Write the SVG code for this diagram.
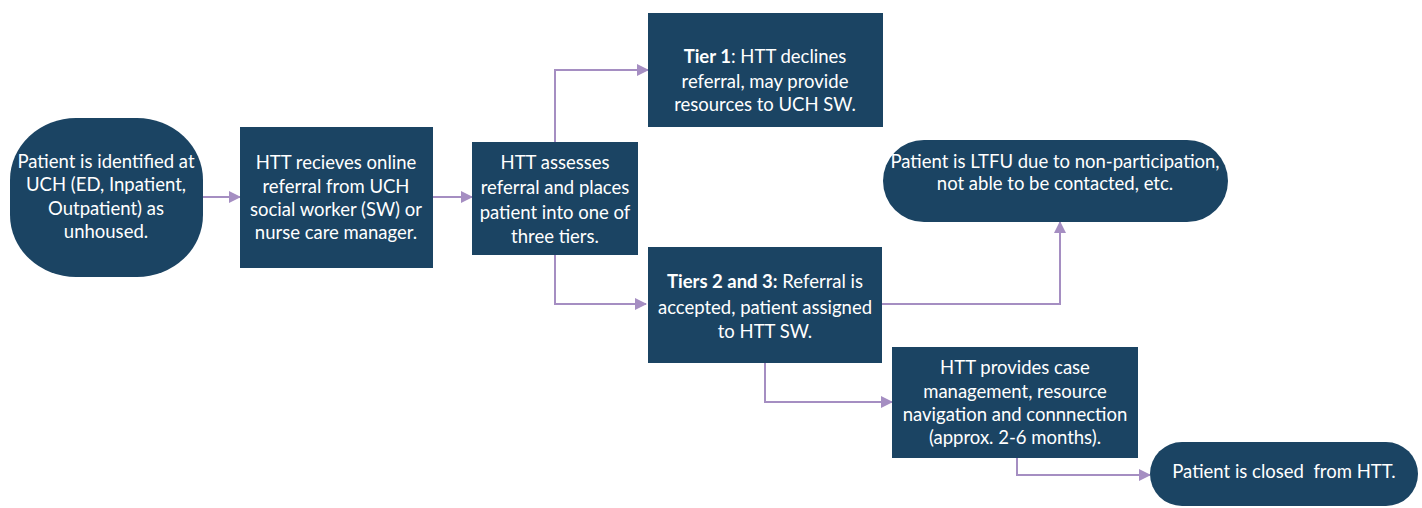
<svg xmlns="http://www.w3.org/2000/svg" width="1422" height="508" viewBox="0 0 1422 508">
<defs>
<marker id="arr" markerWidth="12" markerHeight="12" refX="11" refY="6" orient="auto" markerUnits="userSpaceOnUse">
<path d="M0,0 L12,6 L0,12 Z" fill="#a58ec2"/>
</marker>
<style>
.n{fill:#1b4463;}
.t{fill:#ffffff;font-family:Lato,"Liberation Sans",sans-serif;font-size:18.5px;text-anchor:middle;}
.b{font-weight:bold;}
.c{fill:none;stroke:#a58ec2;stroke-width:2;marker-end:url(#arr);}
</style>
</defs>
<rect width="1422" height="508" fill="#ffffff"/>
<g id="connectors">
<path class="c" d="M203,197 L240,197"/>
<path class="c" d="M433,197 L472,197"/>
<path class="c" d="M555,142 L555,70 L648,70"/>
<path class="c" d="M555,255 L555,304 L646,304"/>
<path class="c" d="M882,304 L1060,304 L1060,222"/>
<path class="c" d="M765,363 L765,402 L892,402"/>
<path class="c" d="M1017,458 L1017,475 L1150,475"/>
</g>
<g id="identified">
<rect class="n" x="10" y="118" width="193" height="159" rx="66" ry="62"/>
<text class="t" x="106" y="168">Patient is identified at</text>
<text class="t" x="106" y="191">UCH (ED, Inpatient,</text>
<text class="t" x="106" y="215">Outpatient) as</text>
<text class="t" x="106" y="238">unhoused.</text>
</g>
<g id="referral">
<rect class="n" x="240" y="127" width="193" height="141"/>
<text class="t" x="336" y="169">HTT recieves online</text>
<text class="t" x="336" y="193">referral from UCH</text>
<text class="t" x="336" y="216">social worker (SW) or</text>
<text class="t" x="336" y="239">nurse care manager.</text>
</g>
<g id="assess">
<rect class="n" x="472" y="142" width="166" height="113"/>
<text class="t" x="555" y="169">HTT assesses</text>
<text class="t" x="555" y="194">referral and places</text>
<text class="t" x="555" y="219">patient into one of</text>
<text class="t" x="555" y="243">three tiers.</text>
</g>
<g id="tier1">
<rect class="n" x="648" y="13" width="235" height="114"/>
<text class="t" x="765" y="63"><tspan class="b">Tier 1</tspan>: HTT declines</text>
<text class="t" x="765" y="88">referral, may provide</text>
<text class="t" x="765" y="111">resources to UCH SW.</text>
</g>
<g id="ltfu">
<rect class="n" x="883" y="140" width="345" height="82" rx="41" ry="41"/>
<text class="t" x="1055" y="168">Patient is LTFU due to non-participation,</text>
<text class="t" x="1055" y="190">not able to be contacted, etc.</text>
</g>
<g id="tier23">
<rect class="n" x="648" y="247" width="234" height="116"/>
<text class="t" x="765" y="288"><tspan class="b">Tiers 2 and 3:</tspan> Referral is</text>
<text class="t" x="765" y="314">accepted, patient assigned</text>
<text class="t" x="765" y="338">to HTT SW.</text>
</g>
<g id="casemgmt">
<rect class="n" x="892" y="347" width="246" height="111"/>
<text class="t" x="1015" y="374">HTT provides case</text>
<text class="t" x="1015" y="398">management, resource</text>
<text class="t" x="1015" y="421">navigation and connnection</text>
<text class="t" x="1015" y="444">(approx. 2-6 months).</text>
</g>
<g id="closed">
<rect class="n" x="1150" y="442" width="268" height="64" rx="32" ry="32"/>
<text class="t" x="1284" y="478" xml:space="preserve">Patient is closed  from HTT.</text>
</g>
</svg>
